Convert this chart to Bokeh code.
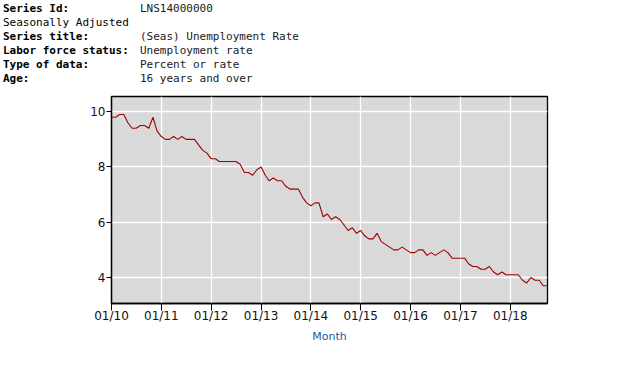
import pandas as pd
from bokeh.plotting import figure
from bokeh.models import Range1d, FixedTicker, DatetimeTickFormatter, ColumnDataSource, Div
from bokeh.layouts import column
from bokeh.embed import file_html
from bokeh.resources import INLINE

# ---- data ----
header_labels = ["Series Id:", "Seasonally Adjusted", "Series title:",
                 "Labor force status:", "Type of data:", "Age:"]
header_values = ["LNS14000000", "", "(Seas) Unemployment Rate",
                 "Unemployment rate", "Percent or rate", "16 years and over"]
header_bold = [True, False, True, True, True, True]

start_month = "2010-01-01"
rate = [
    9.8, 9.8, 9.9, 9.9, 9.6, 9.4, 9.4, 9.5, 9.5, 9.4, 9.8, 9.3,   # 2010
    9.1, 9.0, 9.0, 9.1, 9.0, 9.1, 9.0, 9.0, 9.0, 8.8, 8.6, 8.5,   # 2011
    8.3, 8.3, 8.2, 8.2, 8.2, 8.2, 8.2, 8.1, 7.8, 7.8, 7.7, 7.9,   # 2012
    8.0, 7.7, 7.5, 7.6, 7.5, 7.5, 7.3, 7.2, 7.2, 7.2, 6.9, 6.7,   # 2013
    6.6, 6.7, 6.7, 6.2, 6.3, 6.1, 6.2, 6.1, 5.9, 5.7, 5.8, 5.6,   # 2014
    5.7, 5.5, 5.4, 5.4, 5.6, 5.3, 5.2, 5.1, 5.0, 5.0, 5.1, 5.0,   # 2015
    4.9, 4.9, 5.0, 5.0, 4.8, 4.9, 4.8, 4.9, 5.0, 4.9, 4.7, 4.7,   # 2016
    4.7, 4.7, 4.5, 4.4, 4.4, 4.3, 4.3, 4.4, 4.2, 4.1, 4.2, 4.1,   # 2017
    4.1, 4.1, 4.1, 3.9, 3.8, 4.0, 3.9, 3.9, 3.7, 3.7,             # 2018
]
tick_years = [2010, 2011, 2012, 2013, 2014, 2015, 2016, 2017, 2018]
y_ticks = [4, 6, 8, 10]

dates = pd.date_range(start_month, periods=len(rate), freq="MS")
src = ColumnDataSource(dict(date=dates, rate=rate))

FONT = "DejaVu Sans"
MONO = "DejaVu Sans Mono"

W = 622
HDR_H = 88
F_LEFT, F_RIGHT, F_TOP, F_BOTTOM = 111, 547, 96, 303
CH = 270

# ---- header as HTML ----
rows = []
for lab, val, bold in zip(header_labels, header_values, header_bold):
    weight = "bold" if bold else "normal"
    rows.append(
        f'<div style="height:14.1px;white-space:pre">'
        f'<span style="display:inline-block;width:137px;font-weight:{weight};color:#000">{lab}</span>'
        f'<span style="color:#1a1a1a">{val}</span></div>'
    )
html = (f'<div style="font-family:\'{MONO}\';font-size:11px;line-height:14.1px;'
        f'padding-top:1.5px;padding-left:3px;margin:0">' + "".join(rows) + "</div>")
hdr = Div(text=html, width=W, height=HDR_H, margin=0)

# ---- chart ----
p = figure(width=W, height=CH, x_axis_type="datetime",
           x_range=Range1d(dates[0], dates[-1]), y_range=Range1d(3.06, 10.55),
           output_backend="svg", toolbar_location=None,
           frame_width=F_RIGHT - F_LEFT, frame_height=F_BOTTOM - F_TOP,
           min_border_left=F_LEFT, min_border_right=W - F_RIGHT,
           min_border_top=F_TOP - HDR_H, min_border_bottom=CH - (F_BOTTOM - HDR_H),
           background_fill_color="#d9d9d9", border_fill_color=None,
           outline_line_color="#000000", outline_line_width=1.3)
p.line("date", "rate", source=src, line_color="#a00000", line_width=1.1)

tick_ms = [pd.Timestamp(f"{y}-01-01").value // 10**6 for y in tick_years]
p.xaxis.ticker = FixedTicker(ticks=tick_ms)
fmt = "%m/%y"
p.xaxis.formatter = DatetimeTickFormatter(years=fmt, months=fmt, days=fmt,
                                          hours=fmt, minutes=fmt, seconds=fmt,
                                          milliseconds=fmt, microseconds=fmt)
p.yaxis.ticker = FixedTicker(ticks=y_ticks)

for ax in (p.xaxis[0], p.yaxis[0]):
    ax.axis_line_color = "#000000"
    ax.axis_line_width = 1.3
    ax.major_tick_line_color = "#000000"
    ax.major_tick_in = 0
    ax.minor_tick_line_color = None
    ax.major_label_text_font = FONT
    ax.major_label_text_font_size = "12px"
    ax.major_label_text_color = "#111111"
    ax.major_label_standoff = 1
p.xaxis.major_tick_out = 7
p.xaxis.major_label_standoff = -2
p.yaxis.major_tick_out = 5
p.xaxis.axis_label = "Month"
p.xaxis.axis_label_text_font = FONT
p.xaxis.axis_label_text_font_size = "11px"
p.xaxis.axis_label_text_font_style = "normal"
p.xaxis.axis_label_text_color = "#1a5a96"
p.xaxis.axis_label_standoff = 4

p.grid.grid_line_color = "#ffffff"
p.grid.grid_line_width = 1.3
p.grid.grid_line_alpha = 1.0

layout = column(hdr, p, spacing=0, styles={"margin": "0px"})

open("out.html", "w").write(file_html(layout, INLINE))
